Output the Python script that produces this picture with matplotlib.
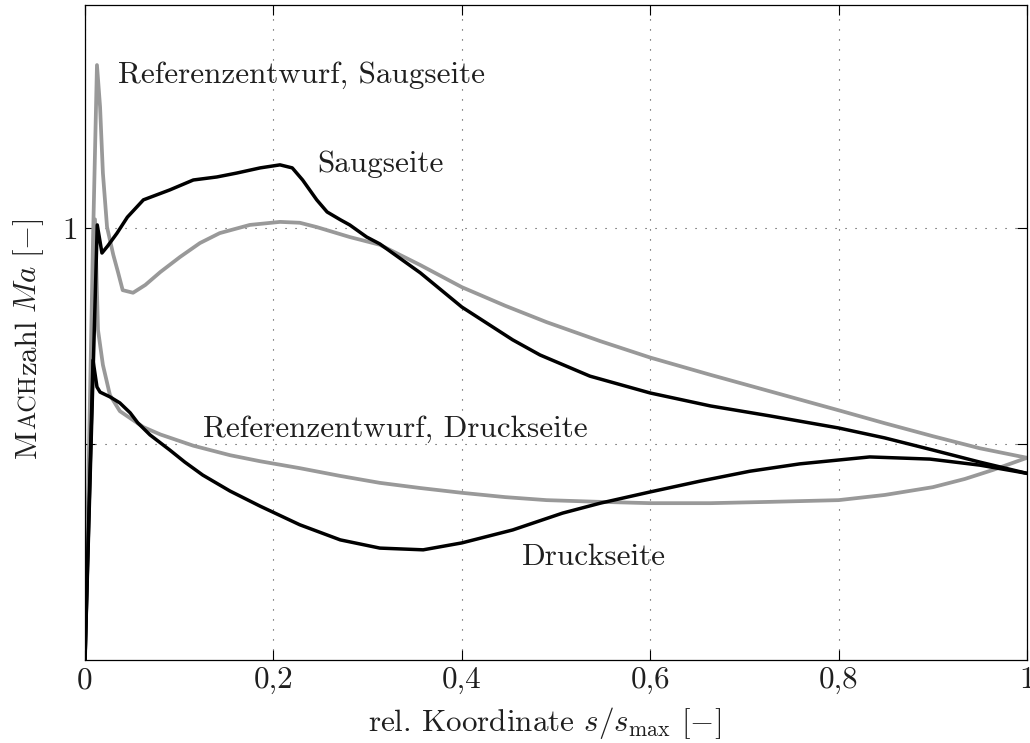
import matplotlib.pyplot as plt
from matplotlib.transforms import IdentityTransform

# Saugseite (neuer Entwurf)
saug_x = [0, 0.013, 0.018, 0.024, 0.034, 0.045, 0.062, 0.09, 0.115, 0.14, 0.161,
          0.186, 0.207, 0.22, 0.231, 0.246, 0.257, 0.271, 0.281, 0.299, 0.313,
          0.356, 0.4, 0.454, 0.483, 0.536, 0.6, 0.664, 0.727, 0.8, 0.849, 0.9,
          0.95, 1.0]
saug_ma = [0, 1.007, 0.942, 0.958, 0.988, 1.025, 1.065, 1.088, 1.111, 1.118, 1.127,
           1.139, 1.146, 1.139, 1.111, 1.065, 1.037, 1.019, 1.007, 0.979, 0.963,
           0.896, 0.817, 0.741, 0.706, 0.657, 0.618, 0.588, 0.565, 0.537, 0.514,
           0.486, 0.458, 0.432]

# Druckseite (neuer Entwurf)
druck_x = [0, 0.0085, 0.0127, 0.016, 0.0265, 0.037, 0.048, 0.056, 0.069, 0.09,
           0.106, 0.125, 0.154, 0.186, 0.228, 0.271, 0.313, 0.359, 0.4, 0.454,
           0.507, 0.547, 0.6, 0.653, 0.706, 0.759, 0.833, 0.897, 0.95, 1.0]
druck_ma = [0, 0.694, 0.632, 0.62, 0.609, 0.595, 0.572, 0.549, 0.521, 0.486,
            0.458, 0.428, 0.391, 0.356, 0.313, 0.278, 0.259, 0.255, 0.271, 0.301,
            0.34, 0.363, 0.389, 0.414, 0.437, 0.454, 0.47, 0.465, 0.451, 0.432]

# Referenzentwurf, Saugseite
ref_saug_x = [0, 0.0085, 0.0127, 0.016, 0.019, 0.0234, 0.03, 0.035, 0.04, 0.051,
              0.064, 0.08, 0.101, 0.122, 0.143, 0.175, 0.207, 0.228, 0.246, 0.281,
              0.313, 0.356, 0.4, 0.446, 0.49, 0.547, 0.6, 0.664, 0.727, 0.8, 0.849,
              0.9, 0.95, 1.0]
ref_saug_ma = [0, 0.972, 1.377, 1.28, 1.127, 1.002, 0.938, 0.898, 0.856, 0.85,
               0.868, 0.898, 0.933, 0.965, 0.988, 1.007, 1.014, 1.012, 1.002, 0.979,
               0.961, 0.914, 0.863, 0.82, 0.782, 0.738, 0.70, 0.66, 0.622, 0.578,
               0.548, 0.518, 0.49, 0.468]

# Referenzentwurf, Druckseite
ref_druck_x = [0, 0.0106, 0.0138, 0.019, 0.0265, 0.037, 0.062, 0.08, 0.115, 0.154,
               0.186, 0.228, 0.271, 0.313, 0.356, 0.4, 0.446, 0.49, 0.547, 0.6,
               0.664, 0.727, 0.8, 0.849, 0.9, 0.934, 0.964, 0.982, 1.0]
ref_druck_ma = [0, 1.02, 0.764, 0.683, 0.613, 0.576, 0.539, 0.522, 0.496, 0.474,
                0.46, 0.444, 0.426, 0.41, 0.398, 0.387, 0.377, 0.37, 0.366, 0.363,
                0.363, 0.366, 0.37, 0.382, 0.4, 0.419, 0.44, 0.454, 0.468]

xticks = [0, 0.2, 0.4, 0.6, 0.8, 1.0]
xtick_labels = ["0", "0,2", "0,4", "0,6", "0,8", "1"]
yticks = [0.5, 1.0]
ytick_labels = ["", "1"]

FS = 22.4
TXT = "0.12"
plt.rcParams["font.family"] = "serif"
plt.rcParams["font.serif"] = ["cmr10"]
plt.rcParams["mathtext.fontset"] = "cm"
plt.rcParams["axes.unicode_minus"] = False
plt.rcParams["text.color"] = TXT
plt.rcParams["xtick.labelcolor"] = TXT
plt.rcParams["ytick.labelcolor"] = TXT
plt.rcParams["axes.labelcolor"] = TXT

fig = plt.figure(figsize=(10.3, 7.43), dpi=100)
ax = fig.add_axes([85 / 1030, 83 / 743, 942 / 1030, 655 / 743])

grey = "#999999"
ax.plot(ref_saug_x, ref_saug_ma, color=grey, lw=2.7, zorder=2)
ax.plot(ref_druck_x, ref_druck_ma, color=grey, lw=2.7, zorder=2)
ax.plot(saug_x, saug_ma, color="black", lw=2.5, zorder=3)
ax.plot(druck_x, druck_ma, color="black", lw=2.5, zorder=3)

ax.set_xlim(0, 1)
ax.set_ylim(0, 1.516)
ax.set_xticks(xticks)
ax.set_xticklabels(xtick_labels, fontsize=FS)
ax.set_yticks(yticks)
ax.set_yticklabels(ytick_labels, fontsize=FS)
ax.tick_params(direction="in", length=7, width=0.8, top=True, right=True, pad=5)
ax.grid(True, color="0.25", lw=0.8, linestyle=(0, (1, 8)))
for sp in ax.spines.values():
    sp.set_linewidth(0.9)

ax.text(0.035, 1.336, "Referenzentwurf, Saugseite", fontsize=FS, va="baseline")
ax.text(0.247, 1.130, "Saugseite", fontsize=FS, va="baseline")
ax.text(0.125, 0.516, "Referenzentwurf, Druckseite", fontsize=FS, va="baseline")
ax.text(0.464, 0.220, "Druckseite", fontsize=FS, va="baseline")

ax.set_xlabel(r"rel. Koordinate $s/s_{\mathrm{max}}$ $[-]$", fontsize=FS)
ax.xaxis.set_label_coords(0.488, -0.068)

# y-Label mit Kapitälchen (MACHzahl), Stück für Stück gesetzt
pieces = [("M", FS, 0), ("ACH", FS * 0.78, 0), ("zahl", FS, 7), (r"$Ma$", FS, 7),
          (r"$[-]$", FS, 0)]
ident = IdentityTransform()
texts = []
for s, size, gap in pieces:
    t = fig.text(0, 0, s, fontsize=size, rotation=90, rotation_mode="anchor",
                 ha="left", va="baseline", transform=ident)
    texts.append((t, gap))
fig.canvas.draw()
renderer = fig.canvas.get_renderer()
lengths = [t.get_window_extent(renderer).height for t, _ in texts]
total = sum(lengths) + sum(g for _, g in texts)
y = (743 - 338) - total / 2
for (t, gap), h in zip(texts, lengths):
    t.set_position((36, y))
    y += h + gap

fig.savefig("out.png", dpi=100)
